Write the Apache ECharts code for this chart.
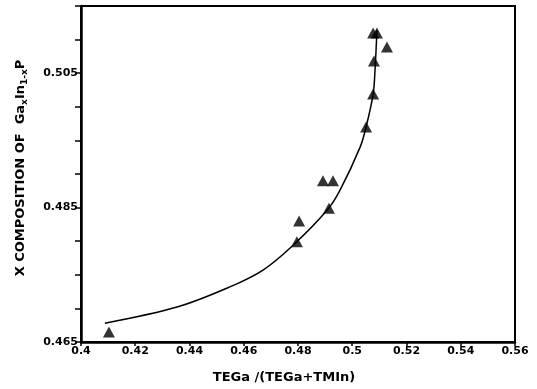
<!DOCTYPE html>
<html>
<head>
<meta charset="utf-8">
<script src="https://cdn.jsdelivr.net/npm/echarts@6/dist/echarts.min.js"></script>
<style>
  html, body { margin: 0; padding: 0; background: #fff; }
  #chart { width: 537px; height: 389px; }
</style>
</head>
<body>
<div id="chart"></div>
<script>
// measured points (triangles)
const pointsX = [0.4103, 0.4796, 0.4804, 0.4914, 0.4892, 0.4929, 0.5051, 0.5077, 0.5080, 0.5128, 0.5077, 0.5091];
const pointsY = [0.4665, 0.4799, 0.4830, 0.4849, 0.4890, 0.4890, 0.4970, 0.5019, 0.5068, 0.5089, 0.5110, 0.5110];

// fitted curve
const curveX = [0.4088, 0.4354, 0.4549, 0.4671, 0.4782, 0.4907, 0.4955, 0.5029, 0.5051, 0.5077, 0.5084, 0.5091];
const curveY = [0.4678, 0.4702, 0.4732, 0.4757, 0.4794, 0.4846, 0.4876, 0.4940, 0.4970, 0.5019, 0.5055, 0.5114];

const yLabels = [0.465, 0.485, 0.505];

const chart = echarts.init(document.getElementById('chart'));

const labelFont = {
  color: '#000',
  fontFamily: 'DejaVu Sans, sans-serif',
  fontWeight: 'bold',
  fontSize: 11,
};

chart.setOption({
  animation: false,
  grid: {
    left: 81,
    right: 22,
    top: 6,
    bottom: 47,
    show: true,
    borderColor: '#000',
    borderWidth: 2,
  },
  xAxis: {
    type: 'value',
    min: 0.4,
    max: 0.56,
    interval: 0.02,
    axisLine: { show: true, lineStyle: { color: '#000', width: 2.5 } },
    axisTick: { show: true, length: 4, lineStyle: { color: '#000', width: 1.5 } },
    axisLabel: { ...labelFont, margin: 4 },
    splitLine: { show: false },
  },
  yAxis: {
    type: 'value',
    min: 0.465,
    max: 0.515,
    interval: 0.005,
    axisLine: { show: true, lineStyle: { color: '#000', width: 2.5 } },
    axisTick: { show: true, length: 6, lineStyle: { color: '#000', width: 1.5 } },
    axisLabel: {
      ...labelFont,
      margin: 3,
      formatter: (v) => {
        const hit = yLabels.find((l) => Math.abs(l - v) < 1e-6);
        return hit !== undefined ? hit.toFixed(3) : '';
      },
    },
    splitLine: { show: false },
  },
  series: [
    {
      type: 'line',
      data: curveX.map((x, i) => [x, curveY[i]]),
      smooth: 0.35,
      showSymbol: false,
      lineStyle: { color: '#000', width: 1.5 },
    },
    {
      type: 'scatter',
      data: pointsX.map((x, i) => [x, pointsY[i]]),
      symbol: 'triangle',
      symbolSize: [12, 11],
      itemStyle: { color: '#000' },
    },
  ],
  graphic: [
    {
      type: 'text',
      x: 284,
      y: 378,
      style: {
        text: 'TEGa /(TEGa+TMIn)',
        fill: '#000',
        font: 'bold 13px "DejaVu Sans", sans-serif',
        align: 'center',
        verticalAlign: 'middle',
      },
    },
    {
      type: 'text',
      x: 21,
      y: 168,
      rotation: Math.PI / 2,
      style: {
        text: 'X COMPOSITION OF  Ga{sub|x}In{sub|1-x}P',
        fill: '#000',
        font: 'bold 13px "DejaVu Sans", sans-serif',
        align: 'center',
        verticalAlign: 'middle',
        rich: {
          sub: {
            font: 'bold 9px "DejaVu Sans", sans-serif',
            fill: '#000',
            verticalAlign: 'bottom',
            padding: [7, 0, 0, 0],
          },
        },
      },
    },
  ],
});
</script>
</body>
</html>
